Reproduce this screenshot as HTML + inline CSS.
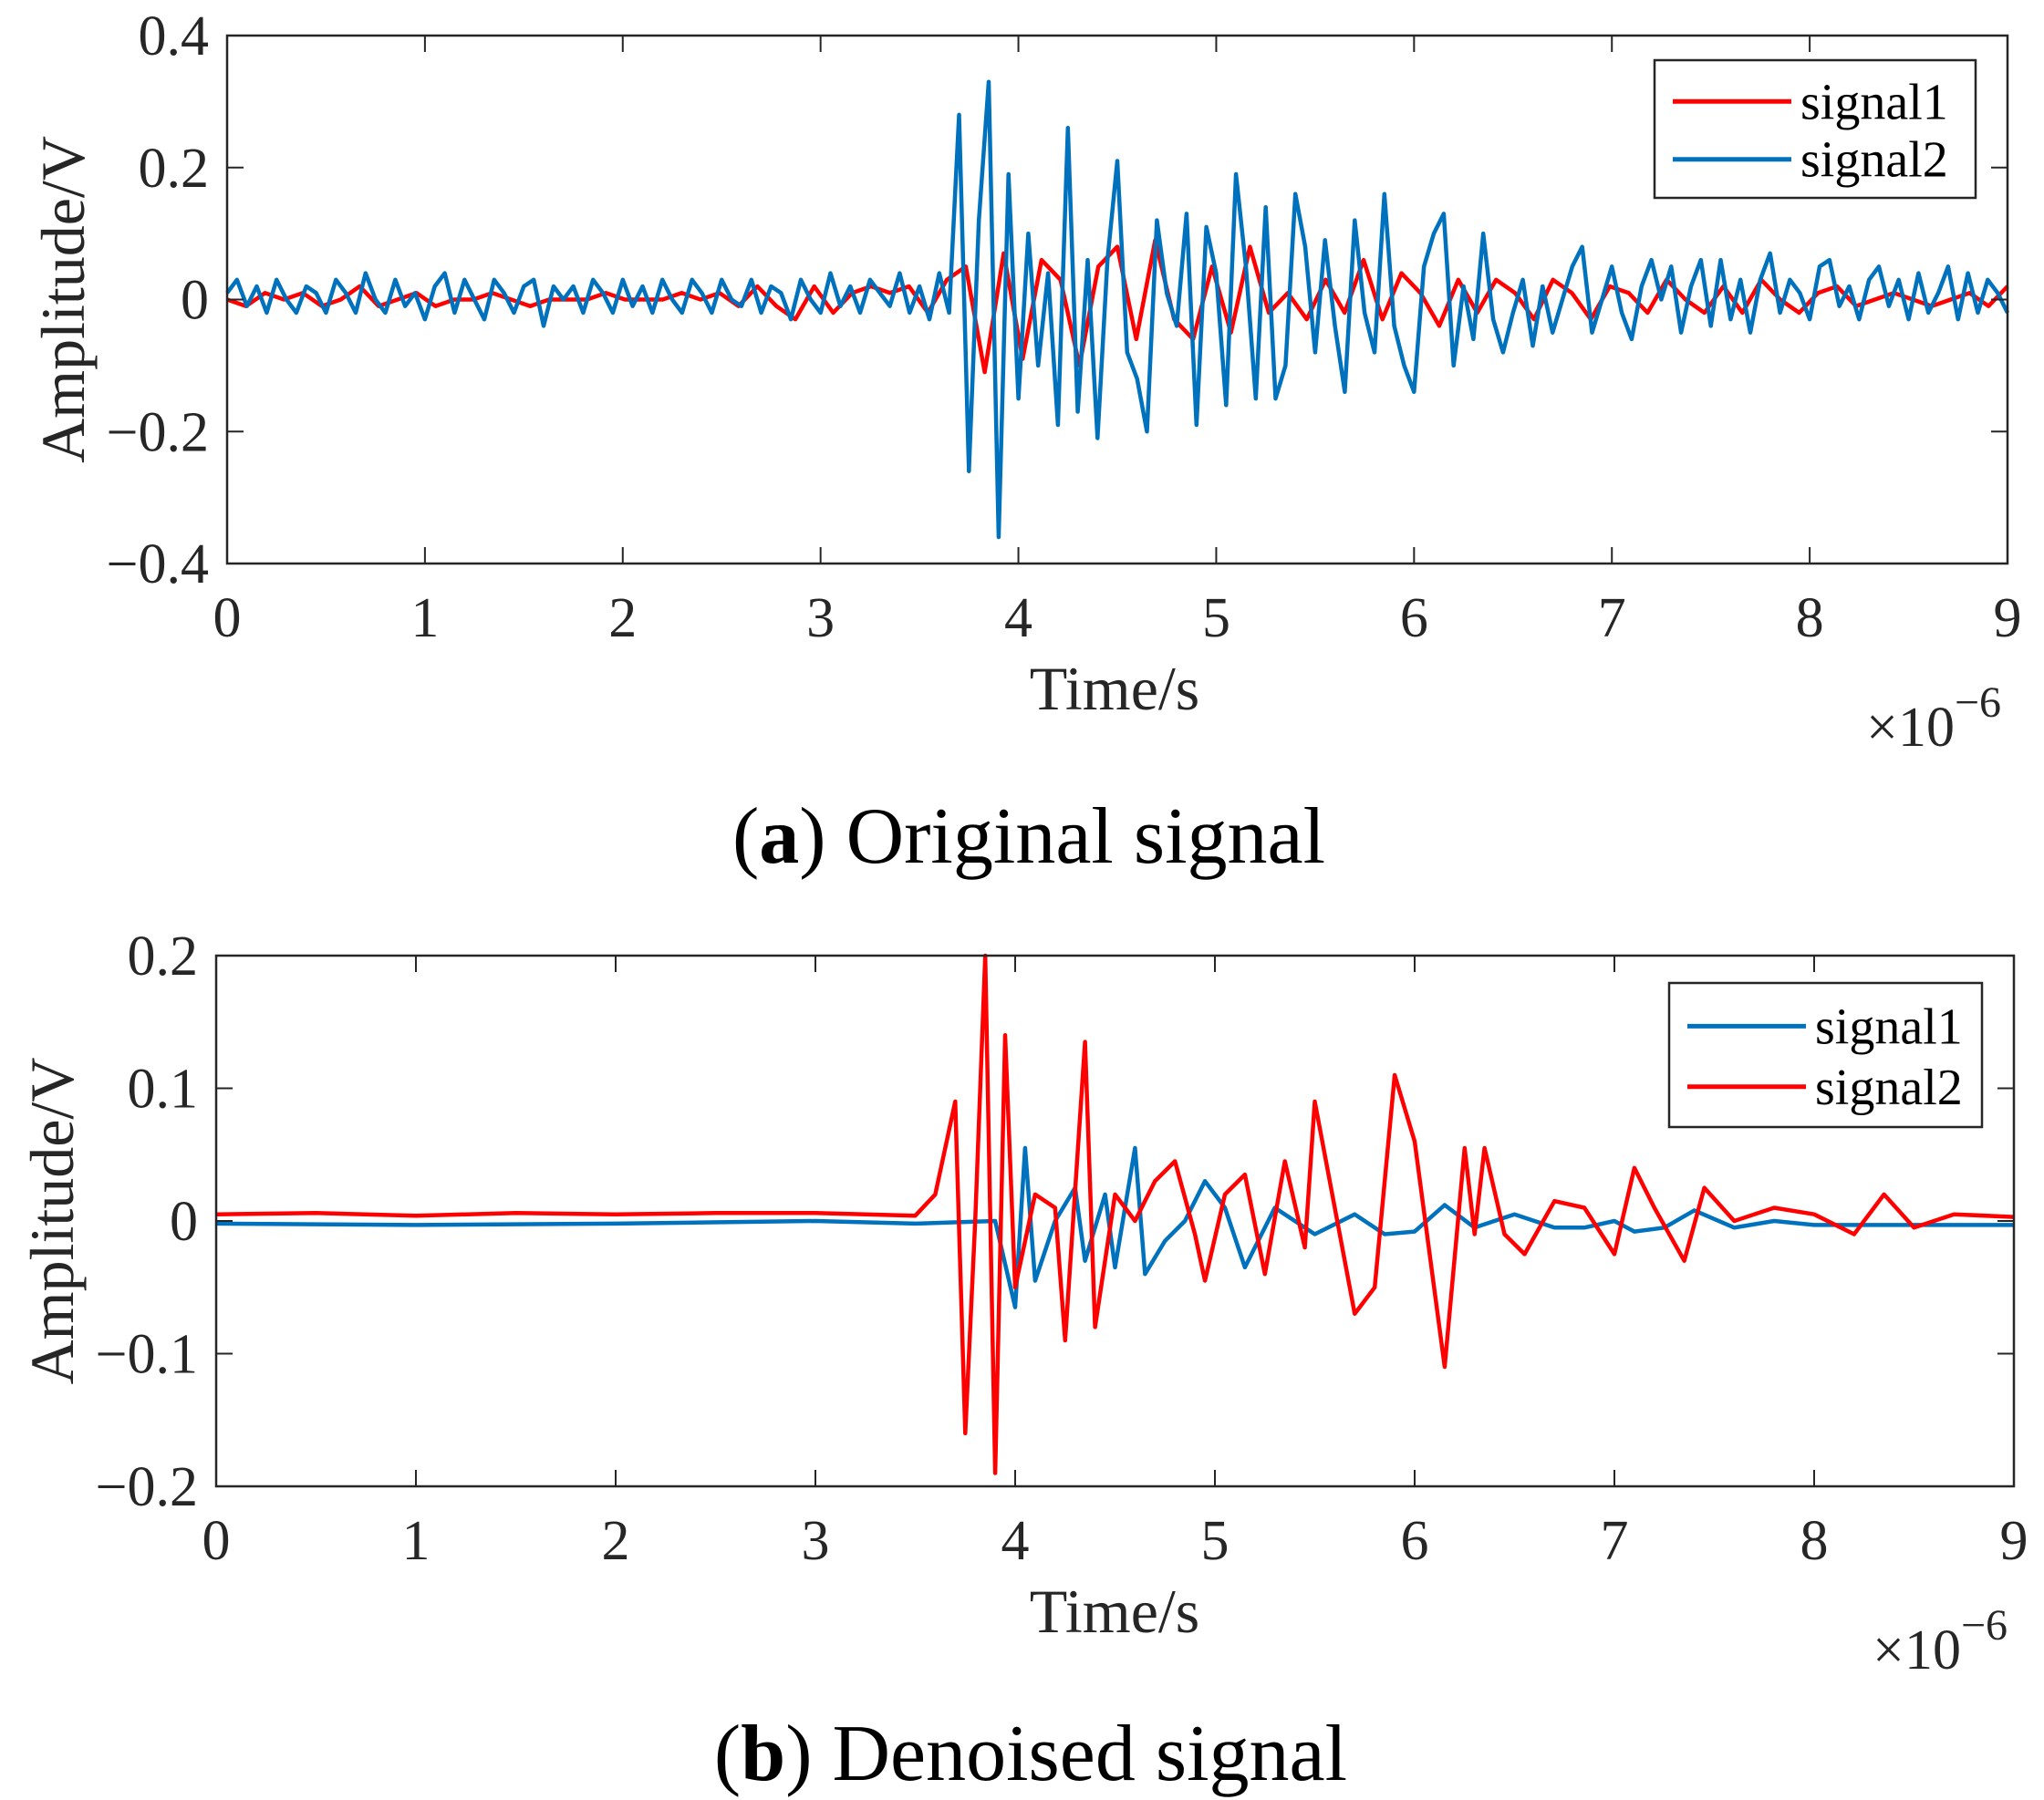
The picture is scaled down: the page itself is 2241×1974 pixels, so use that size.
<!DOCTYPE html>
<html><head><meta charset="utf-8">
<style>
html,body{margin:0;padding:0;background:#fff;}
svg{display:block;font-family:"Liberation Serif","Times New Roman",serif;}
</style></head>
<body>
<svg id="fig" width="2241" height="1974" viewBox="0 0 2241 1974" xmlns="http://www.w3.org/2000/svg"></svg>
<script>
// ---- Data: panel (a) ----
const aBlueVals = [0.01,0.03,-0.01,0.02,-0.02,0.03,0,-0.02,0.02,0.01,-0.02,0.03,0.01,-0.02,0.04,0,-0.02,0.03,-0.01,0.01,-0.03,0.02,0.04,-0.02,0.03,0,-0.03,0.03,0.01,-0.02,0.02,0.03,-0.04,0.02,0,0.02,-0.02,0.03,0.01,-0.02,0.03,-0.01,0.02,-0.02,0.03,0,-0.02,0.03,0.01,-0.02,0.03,0,-0.01,0.03,-0.02,0.02,0.01,-0.03,0.03,0,-0.02,0.04,-0.01,0.02,-0.02,0.03,0.01,-0.01,0.04,-0.02,0.02,-0.03,0.04,-0.02,
0.28,-0.26,0.12,0.33,-0.36,0.19,-0.15,0.1,-0.1,0.04,-0.19,0.26,-0.17,0.06,-0.21,0.06,0.21,-0.08,-0.12,-0.2,0.12,0.01,-0.04,0.13,-0.19,0.11,0.04,-0.16,0.19,0.05,-0.15,0.14,-0.15,-0.1,0.16,0.08,-0.08,0.09,-0.04,-0.14,0.12,-0.02,-0.08,0.16,-0.04,-0.1,-0.14,0.05,0.1,0.13,-0.1,0.02,-0.06,0.1,-0.03,-0.08,-0.02,0.03,-0.07,0.02,-0.05,0,0.05,0.08,-0.05,0,0.05,-0.02,-0.06,0.02,0.06,0,0.05,-0.05,0.02,0.06,-0.04,0.06,-0.03,0.03,-0.05,0.03,0.07,-0.02,0.03,0.01,-0.03,0.05,0.06,-0.01,0.02,-0.03,0.03,0.05,-0.01,0.03,-0.03,0.04,-0.02,0.01,0.05,-0.03,0.04,-0.02,0.03,0.01,-0.02];
const aRedVals = [0,-0.01,0.01,0,0.01,-0.01,0,0.02,-0.01,0,0.01,-0.01,0,0,0.01,0,-0.01,0,0,0,0.01,0,0,0,0.01,0,0.01,-0.01,0.02,-0.01,-0.03,0.02,-0.02,0.01,0.02,
0.01,0.02,-0.02,0.03,0.05,-0.11,0.07,-0.09,0.06,0.03,-0.1,0.05,0.08,-0.06,0.09,-0.03,-0.06,0.05,-0.05,0.08,-0.02,0.01,-0.03,0.03,-0.02,0.06,-0.03,0.04,0.01,-0.04,0.03,-0.02,0.03,0.01,-0.03,0.03,0.01,-0.03,0.02,0.01,-0.02,0.03,0,-0.02,0.02,-0.02,0.03,0,-0.02,0.01,0.02,-0.01,0,0.01,0,-0.01,0,0.01,-0.01,0.02];
// ---- Data: panel (b) ----
const bRedT = [0,0.5,1,1.5,2,2.5,3,3.5,3.6,3.7,3.75,3.8,3.85,3.9,3.95,4.0,4.1,4.2,4.25,4.35,4.4,4.5,4.6,4.7,4.8,4.9,4.95,5.05,5.15,5.25,5.35,5.45,5.5,5.7,5.8,5.9,6.0,6.15,6.25,6.3,6.35,6.45,6.55,6.7,6.85,7.0,7.1,7.2,7.35,7.45,7.6,7.8,8.0,8.2,8.35,8.5,8.7,9];
const bRedV = [0.005,0.006,0.004,0.006,0.005,0.006,0.006,0.004,0.02,0.09,-0.16,0.0,0.2,-0.19,0.14,-0.05,0.02,0.01,-0.09,0.135,-0.08,0.02,0.0,0.03,0.045,-0.01,-0.045,0.02,0.035,-0.04,0.045,-0.02,0.09,-0.07,-0.05,0.11,0.06,-0.11,0.055,-0.01,0.055,-0.01,-0.025,0.015,0.01,-0.025,0.04,0.01,-0.03,0.025,0,0.01,0.005,-0.01,0.02,-0.005,0.005,0.003];
const bBlueT = [0,1,2,3,3.5,3.9,4.0,4.05,4.1,4.2,4.3,4.35,4.45,4.5,4.6,4.65,4.75,4.85,4.95,5.05,5.15,5.3,5.5,5.7,5.85,6.0,6.15,6.3,6.5,6.7,6.85,7.0,7.1,7.25,7.4,7.6,7.8,8.0,9];
const bBlueV = [-0.002,-0.003,-0.002,0.0,-0.002,0.0,-0.065,0.055,-0.045,0.0,0.025,-0.03,0.02,-0.035,0.055,-0.04,-0.015,0.0,0.03,0.01,-0.035,0.01,-0.01,0.005,-0.01,-0.008,0.012,-0.005,0.005,-0.005,-0.005,0.0,-0.008,-0.005,0.008,-0.005,0,-0.003,-0.003];
const xTicks = [0,1,2,3,4,5,6,7,8,9];
const aYTicks = [0.4,0.2,0,-0.2,-0.4];
const aYLabels = ["0.4","0.2","0","\u22120.2","\u22120.4"];
const bYTicks = [0.2,0.1,0,-0.1,-0.2];
const bYLabels = ["0.2","0.1","0","\u22120.1","\u22120.2"];

const NS="http://www.w3.org/2000/svg";
const svg=document.getElementById('fig');
function mk(tag,attrs,parent,text){const e=document.createElementNS(NS,tag);for(const k in attrs)e.setAttribute(k,attrs[k]);if(text!==undefined)e.textContent=text;(parent||svg).appendChild(e);return e;}

function panel(p){
  const g=mk('g',{});
  
  
  const sx=v=>p.L+(v-0)/9*(p.R-p.L);
  const sy=v=>p.B-(v-p.ymin)/(p.ymax-p.ymin)*(p.B-p.T);
  p.series.forEach(s=>{
    const d=s.v.map((v,i)=>(i?'L':'M')+sx(s.t[i]).toFixed(1)+','+sy(v).toFixed(1)).join('');
    const path=mk('path',{d:d,fill:'none',stroke:s.color,'stroke-width':4.5,'stroke-linejoin':'round'},g);
    
    
  });
  const box=mk('rect',{x:p.L,y:p.T,width:p.R-p.L,height:p.B-p.T,fill:'none',stroke:'#262626','stroke-width':2.5},g);
  
  
  xTicks.forEach(v=>{
    const x=sx(v);
    mk('line',{x1:x,x2:x,y1:p.B,y2:p.B-18,stroke:'#262626','stroke-width':2},g);
    mk('line',{x1:x,x2:x,y1:p.T,y2:p.T+18,stroke:'#262626','stroke-width':2},g);
    const t=mk('text',{x:x,y:p.B+80,'text-anchor':'middle','font-size':62,fill:'#262626'},g,String(v));
    
    
  });
  p.yTicks.forEach((v,i)=>{
    const y=sy(v);
    mk('line',{x1:p.L,x2:p.L+18,y1:y,y2:y,stroke:'#262626','stroke-width':2},g);
    mk('line',{x1:p.R,x2:p.R-18,y1:y,y2:y,stroke:'#262626','stroke-width':2},g);
    const t=mk('text',{x:p.L-20,y:y+21,'text-anchor':'end','font-size':62,fill:'#262626'},g,p.yLabels[i]);
    
    
  });
  const xl=mk('text',{x:1222,y:p.B+160,'text-anchor':'middle','font-size':68,fill:'#262626'},g,'Time/s');
  
  
  const ex=mk('text',{x:p.R-155,y:p.B+200,'font-size':62,fill:'#262626'},g,'\u00d710');
  
  
  mk('tspan',{dy:-32,'font-size':48},ex,'\u22126');
  const yl=mk('text',{x:0,y:0,'text-anchor':'middle','font-size':68,fill:'#262626',transform:`translate(${p.ylx},${(p.T+p.B)/2}) rotate(-90)`},g,'Amplitude/V');
  
  
  const lg=mk('g',{},g);
  
  
  mk('rect',{x:p.lg[0],y:p.lg[1],width:p.lg[2],height:p.lg[3],fill:'#fff',stroke:'#262626','stroke-width':2.5},lg);
  p.series.forEach((s,i)=>{
    const y=p.lg[1]+p.lg[3]*(i?0.72:0.3);
    mk('line',{x1:p.lg[0]+20,x2:p.lg[0]+150,y1:y,y2:y,stroke:s.color,'stroke-width':5},lg);
    const t=mk('text',{x:p.lg[0]+160,y:y+19,'font-size':56,fill:'#000'},lg,s.label);
    
    
  });
  const cap=mk('text',{x:p.capX,y:p.capY,'text-anchor':'middle','font-size':88,fill:'#000'},g);
  
  
  mk('tspan',{},cap,'(');
  mk('tspan',{'font-weight':'bold'},cap,p.capL);
  mk('tspan',{},cap,') '+p.capT);
}
const aT=aBlueVals.map((v,i)=>9*i/(aBlueVals.length-1));
const aRT=aRedVals.map((v,i)=>9*i/(aRedVals.length-1));
panel({name:'panel-a-original',L:249,R:2201,T:39,B:618,ymin:-0.4,ymax:0.4,yTicks:aYTicks,yLabels:aYLabels,ylx:92,
  series:[{name:'signal1-line',label:'signal1',color:'#ff0000',t:aRT,v:aRedVals},{name:'signal2-line',label:'signal2',color:'#0072bd',t:aT,v:aBlueVals}],
  lg:[1814,66,352,151],capX:1128,capY:946,capL:'a',capT:'Original signal'});
panel({name:'panel-b-denoised',L:237,R:2208,T:1048,B:1630,ymin:-0.2,ymax:0.2,yTicks:bYTicks,yLabels:bYLabels,ylx:80,
  series:[{name:'signal1-line',label:'signal1',color:'#0072bd',t:bBlueT,v:bBlueV},{name:'signal2-line',label:'signal2',color:'#ff0000',t:bRedT,v:bRedV}],
  lg:[1830,1078,343,158],capX:1130,capY:1952,capL:'b',capT:'Denoised signal'});
</script>
</body></html>
